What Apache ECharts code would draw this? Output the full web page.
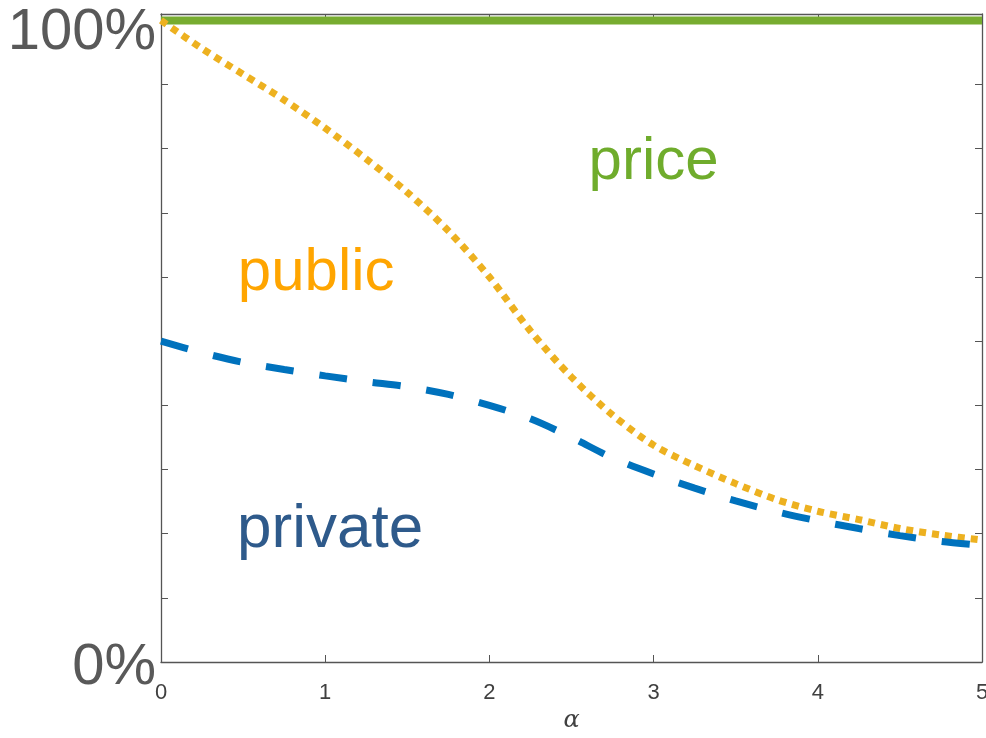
<!DOCTYPE html>
<html>
<head>
<meta charset="utf-8">
<script src="https://cdn.jsdelivr.net/npm/echarts@6/dist/echarts.min.js"></script>
<style>
  html, body { margin: 0; padding: 0; background: #fff; }
  #chart { width: 986px; height: 738px; }
</style>
</head>
<body>
<div id="chart"></div>
<script>
// alpha grid (x axis)
const alpha = [0, 0.25, 0.5, 0.75, 1, 1.25, 1.5, 1.75, 2, 2.25, 2.5, 2.75, 3, 3.25, 3.5, 3.75, 4, 4.25, 4.5, 4.75, 5];
// shares in percent
const priceShare = [100, 100, 100, 100, 100, 100, 100, 100, 100, 100, 100, 100, 100, 100, 100, 100, 100, 100, 100, 100, 100];
const publicShare = [100, 95.6, 91.6, 87.6, 83.2, 78.4, 73.2, 67.2, 60.0, 51.6, 44.4, 38.5, 33.8, 30.6, 27.8, 25.3, 23.5, 22.2, 20.8, 19.8, 19.0];
const privateShare = [50.0, 48.2, 46.7, 45.6, 44.6, 43.7, 42.9, 41.7, 40.0, 37.9, 35.0, 31.8, 29.3, 27.1, 25.1, 23.4, 22.0, 20.8, 19.7, 18.8, 18.2];
// region labels
const regionNames = ["price", "public", "private"];
const regionAlpha = [3.0, 0.945, 1.03];
const regionShare = [77.9, 60.6, 20.6];
const xTicks = [0, 1, 2, 3, 4, 5];
const yTicks = [0, 10, 20, 30, 40, 50, 60, 70, 80, 90, 100];
const yLabels = [0, 100];

const regionColors = ["#6fac2c", "#ffa500", "#2e5a8b"];

const pair = (ys) => alpha.map((a, i) => [a, ys[i]]);

const chart = echarts.init(document.getElementById("chart"));

const axisLine = { show: true, onZero: false, lineStyle: { color: "#555", width: 1.3 } };
const tick = { show: true, inside: true, length: 7, lineStyle: { color: "#555", width: 1 } };

const option = {
  backgroundColor: "#fff",
  animation: false,
  grid: {
    left: 161, right: 4, top: 14, bottom: 76,
    show: false, containLabel: false, outerBoundsMode: "none",
  },
  xAxis: [
    {
      type: "value",
      min: 0,
      max: 5,
      interval: 1,
      position: "bottom",
      axisLine: axisLine,
      axisTick: { ...tick, customValues: xTicks.slice(1, 5) },
      splitLine: { show: false },
      axisLabel: {
        customValues: xTicks,
        color: "#404040",
        fontSize: 22,
        fontFamily: "Liberation Sans",
        margin: 20,
      },
      name: "α",
      nameLocation: "middle",
      nameGap: 47,
      nameTextStyle: {
        color: "#404040",
        fontSize: 24,
        fontStyle: "italic",
        fontFamily: "DejaVu Serif",
      },
    },
    {
      type: "value",
      min: 0,
      max: 5,
      position: "top",
      axisLine: axisLine,
      axisTick: { ...tick, customValues: xTicks.slice(1, 5) },
      axisLabel: { show: false },
      splitLine: { show: false },
    },
  ],
  yAxis: [
    {
      type: "value",
      min: 0,
      max: 101,
      position: "left",
      axisLine: axisLine,
      axisTick: { ...tick, customValues: yTicks },
      splitLine: { show: false },
      axisLabel: {
        customValues: yLabels,
        color: "#595959",
        fontSize: 58,
        fontFamily: "Liberation Sans",
        margin: 5,
        formatter: (v) => (v === 100 ? "{top|100%}" : "{bot|0%}"),
        rich: {
          top: { fontSize: 58, color: "#595959", fontFamily: "Liberation Sans", padding: [26, 0, 0, 0] },
          bot: { fontSize: 58, color: "#595959", fontFamily: "Liberation Sans", padding: [12, 0, 0, 0] },
        },
      },
    },
    {
      type: "value",
      min: 0,
      max: 101,
      position: "right",
      axisLine: axisLine,
      axisTick: { ...tick, customValues: yTicks },
      axisLabel: { show: false },
      splitLine: { show: false },
    },
  ],
  series: [
    {
      name: "price",
      type: "line",
      data: pair(priceShare),
      symbol: "none",
      lineStyle: { color: "#77ac30", width: 8 },
      z: 2,
    },
    {
      name: "public",
      type: "line",
      data: pair(publicShare),
      symbol: "none",
      smooth: 0.3,
      lineStyle: { color: "#edb120", width: 7, type: [7, 6] },
      z: 3,
    },
    {
      name: "private",
      type: "line",
      data: pair(privateShare),
      symbol: "none",
      smooth: 0.3,
      lineStyle: { color: "#0072bd", width: 7, type: [28, 26] },
      z: 4,
    },
    {
      name: "labels",
      type: "scatter",
      symbolSize: 0,
      itemStyle: { opacity: 1 },
      data: regionNames.map((n, i) => ({
        value: [regionAlpha[i], regionShare[i]],
        name: n,
        label: {
          show: true,
          position: "inside",
          formatter: n,
          color: regionColors[i],
          opacity: 1,
          fontSize: i === 2 ? 62 : 60,
          fontFamily: "Liberation Sans",
        },
      })),
      z: 5,
    },
  ],
};

chart.setOption(option);
</script>
</body>
</html>
